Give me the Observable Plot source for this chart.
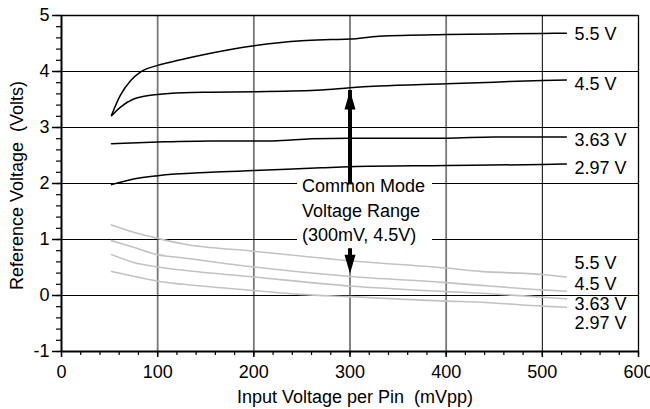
<!DOCTYPE html>
<html><head><meta charset="utf-8">
<script src="https://cdn.jsdelivr.net/npm/d3@7"></script>
<script src="https://cdn.jsdelivr.net/npm/@observablehq/plot@0.6"></script>
<style>html,body{margin:0;padding:0;background:#fff;} svg{display:block;}</style>
</head><body><div id="chart"></div>
<script>
// ---- data ----
const seriesLabels = ["5.5 V", "4.5 V", "3.63 V", "2.97 V"];
const upper55 = [[52,3.22],[61,3.57],[72,3.84],[82,3.99],[100,4.11],[124,4.21],[145,4.29],[200,4.46],[250,4.55],[280,4.57],[300,4.58],[330,4.63],[400,4.66],[450,4.67],[500,4.68],[525,4.685]];
const upper45 = [[52,3.21],[61,3.36],[75,3.51],[86,3.56],[100,3.59],[127,3.62],[155,3.63],[200,3.64],[270,3.67],[300,3.71],[330,3.74],[400,3.78],[450,3.81],[500,3.84],[525,3.85]];
const upper363 = [[52,2.71],[100,2.74],[155,2.76],[220,2.76],[260,2.80],[300,2.81],[400,2.81],[450,2.83],[500,2.83],[525,2.83]];
const upper297 = [[52,1.98],[75,2.08],[100,2.14],[155,2.20],[200,2.23],[270,2.28],[300,2.30],[400,2.32],[500,2.34],[525,2.35]];
const lower55 = [[52,1.26],[75,1.13],[100,1.02],[127,0.92],[200,0.79],[300,0.62],[400,0.49],[436,0.43],[500,0.375],[525,0.33]];
const lower45 = [[52,0.98],[75,0.86],[100,0.73],[127,0.67],[200,0.51],[300,0.34],[400,0.23],[436,0.18],[500,0.10],[525,0.077]];
const lower363 = [[52,0.73],[75,0.59],[100,0.51],[127,0.45],[200,0.33],[300,0.17],[400,0.07],[436,0.04],[500,-0.03],[525,-0.06]];
const lower297 = [[52,0.43],[75,0.345],[100,0.255],[127,0.20],[200,0.09],[248,0.02],[300,-0.02],[400,-0.10],[436,-0.12],[500,-0.19],[525,-0.21]];
const upperLabelY = [4.67, 3.77, 2.77, 2.28];
const lowerLabelY = [0.576, 0.21, -0.156, -0.5];
const xTicks = [0, 100, 200, 300, 400, 500, 600];
const yTicks = [-1, 0, 1, 2, 3, 4, 5];
const xGridGray = [100, 200, 300, 400];
const xGridBlack = [500];
const yGrid = [0, 1, 2, 3, 4];
const annotation = [{x: 250, y: 1.55, text: "Common Mode\nVoltage Range\n(300mV, 4.5V)"}];
const noteBox = [{x1: 245.4, x2: 385.8, y1: 0.834, y2: 2.19}];
const upArrow = [{x: 300, from: 2.19, to: 3.66}];
const downArrow = [{x: 300, from: 0.834, to: 0.39}];
const xTitle = "Input Voltage per Pin \u00a0(mVpp)";
const yTitle = "Reference Voltage \u00a0(Volts)";

// ---- build ----
const toRows = (arr, s) => arr.map(([x, y]) => ({x, y, s}));
const upperSets = [upper55, upper45, upper363, upper297];
const lowerSets = [lower55, lower45, lower363, lower297];
const upperRows = upperSets.flatMap((a, i) => toRows(a, seriesLabels[i]));
const lowerRows = lowerSets.flatMap((a, i) => toRows(a, seriesLabels[i]));
const upperLab = upperSets.map((a, i) => ({x: a[a.length - 1][0], y: upperLabelY[i], t: seriesLabels[i]}));
const lowerLab = lowerSets.map((a, i) => ({x: a[a.length - 1][0], y: lowerLabelY[i], t: seriesLabels[i]}));

const head = {draw(ctx) { ctx.moveTo(0, 0); ctx.lineTo(5.5, 19); ctx.lineTo(-5.5, 19); ctx.closePath(); }};
const font = "Liberation Sans, Arial, Helvetica, sans-serif";

const chart = Plot.plot({
  width: 650, height: 409,
  marginLeft: 61, marginRight: 12, marginTop: 15, marginBottom: 58,
  style: {fontFamily: font, fontSize: "18px", color: "black", background: "white"},
  x: {domain: [0, 600]},
  y: {domain: [-1, 5]},
  marks: [
    Plot.ruleX(xGridGray, {stroke: "#777777", strokeWidth: 1.8}),
    Plot.ruleX(xGridBlack, {stroke: "black", strokeWidth: 1}),
    Plot.ruleY(yGrid, {stroke: "black", strokeWidth: 1}),
    Plot.ruleX([600], {stroke: "black", strokeWidth: 1.3}),
    Plot.ruleY([5], {stroke: "black", strokeWidth: 1.3}),
    Plot.rect(noteBox, {x1: "x1", x2: "x2", y1: "y1", y2: "y2", fill: "white"}),
    Plot.line(lowerRows, {x: "x", y: "y", z: "s", stroke: "#c2c2c2", strokeWidth: 1.6, curve: "monotone-x"}),
    Plot.line(upperRows, {x: "x", y: "y", z: "s", stroke: "black", strokeWidth: 1.5, curve: "monotone-x"}),
    Plot.text(upperLab, {x: "x", y: "y", text: "t", dx: 8, textAnchor: "start", fontSize: 18, fill: "black"}),
    Plot.text(lowerLab, {x: "x", y: "y", text: "t", dx: 8, textAnchor: "start", fontSize: 18, fill: "black"}),
    Plot.text(annotation, {x: "x", y: "y", text: "text", textAnchor: "start", lineHeight: 1.37, fontSize: 18, fill: "black"}),
    Plot.ruleX(upArrow, {x: "x", y1: "from", y2: "to", stroke: "black", strokeWidth: 4, insetTop: 12}),
    Plot.ruleX(downArrow, {x: "x", y1: "from", y2: "to", stroke: "black", strokeWidth: 4, insetBottom: 12}),
    Plot.dot(upArrow, {x: "x", y: "to", symbol: head, fill: "black", stroke: "none", r: 5}),
    Plot.dot(downArrow, {x: "x", y: "to", symbol: head, fill: "black", stroke: "none", r: 5, rotate: 180}),
    Plot.axisY({ticks: yTicks, tickSize: 9, tickPadding: 3, strokeWidth: 1.5, tickFormat: d => String(d), label: null, fontSize: 18}),
    Plot.axisY({ticks: d3.range(-1, 5.001, 0.2), tickSize: 5, strokeWidth: 1.2, tickFormat: null, text: null, label: null}),
    Plot.axisX({ticks: xTicks, tickSize: 6, tickPadding: 8, strokeWidth: 1.5, tickFormat: d => String(d), label: null, fontSize: 18}),
    Plot.axisX({ticks: d3.range(0, 601, 20), tickSize: 4, strokeWidth: 1.2, text: null, label: null}),
    Plot.ruleX([0], {stroke: "black", strokeWidth: 2}),
    Plot.ruleY([-1], {stroke: "black", strokeWidth: 2}),
    Plot.text([xTitle], {text: d => d, frameAnchor: "bottom", lineAnchor: "middle", textAnchor: "middle", dy: 46, dx: 5, fontSize: 18, fill: "black"}),
    Plot.text([yTitle], {text: d => d, frameAnchor: "left", lineAnchor: "middle", textAnchor: "middle", rotate: -90, dx: -44, dy: 2, fontSize: 18, fill: "black"})
  ]
});
document.getElementById("chart").appendChild(chart);
</script></body></html>
